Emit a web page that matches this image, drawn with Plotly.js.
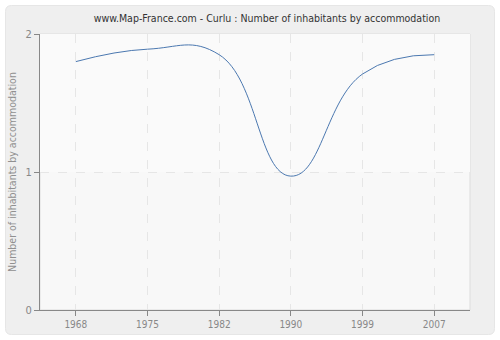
<!DOCTYPE html>
<html>
<head>
<meta charset="utf-8">
<script src="https://cdn.plot.ly/plotly-3.0.1.min.js"></script>
<style>
html,body{margin:0;padding:0;background:#ffffff;}
#chart{width:500px;height:340px;}
</style>
</head>
<body>
<div id="chart"></div>
<script>
var years = ["1968", "1975", "1982", "1990", "1999", "2007"];
var inhabitantsPerHousing = [1.80, 1.89, 1.85, 0.97, 1.71, 1.85];
var yTickValues = [0, 1, 2];
var yTickLabels = ["0", "1", "2"];

var FONT = "DejaVu Sans Condensed, DejaVu Sans, sans-serif";

var trace = {
  x: years,
  y: inhabitantsPerHousing,
  type: "scatter",
  mode: "lines",
  line: {color: "#4b78b0", width: 1, shape: "spline", smoothing: 1.3},
  hoverinfo: "x+y"
};

var px = function(v){ return (v - 40) / 430; };
var py = function(v){ return (310 - v) / 276; };

function roundRect(x0, y0, x1, y1, r) {
  var rx = r / 430, ry = r / 276;
  var a = px(x0), b = px(x1), t = py(y0), u = py(y1);
  return "M" + (a + rx) + "," + t +
    " L" + (b - rx) + "," + t +
    " Q" + b + "," + t + " " + b + "," + (t - ry) +
    " L" + b + "," + (u + ry) +
    " Q" + b + "," + u + " " + (b - rx) + "," + u +
    " L" + (a + rx) + "," + u +
    " Q" + a + "," + u + " " + a + "," + (u + ry) +
    " L" + a + "," + (t - ry) +
    " Q" + a + "," + t + " " + (a + rx) + "," + t + " Z";
}

var layout = {
  width: 500,
  height: 340,
  margin: {l: 40, r: 30, t: 34, b: 30, pad: 0},
  paper_bgcolor: "#ffffff",
  plot_bgcolor: "rgba(0,0,0,0)",
  showlegend: false,
  title: {
    text: "www.Map-France.com - Curlu : Number of inhabitants by accommodation",
    font: {family: FONT, size: 10.5, color: "#333333"},
    x: 267 / 500, xanchor: "center", xref: "container",
    y: 1 - 18 / 340, yanchor: "middle"
  },
  xaxis: {
    type: "category",
    range: [-0.5, 5.5],
    showline: true, linecolor: "#888888", linewidth: 1,
    ticks: "outside", ticklen: 5, tickcolor: "#888888",
    showgrid: true, gridcolor: "#e6e6e6", griddash: "dash", gridwidth: 1,
    tickfont: {family: FONT, size: 10, color: "#888888"},
    zeroline: false, fixedrange: true
  },
  yaxis: {
    range: [0, 2],
    tickvals: yTickValues, ticktext: yTickLabels,
    showline: true, linecolor: "#888888", linewidth: 1,
    ticks: "outside", ticklen: 5, tickcolor: "#888888",
    showgrid: true, gridcolor: "#e6e6e6", griddash: "dash", gridwidth: 1,
    tickfont: {family: FONT, size: 11, color: "#888888"},
    zeroline: false, fixedrange: true,
    title: {text: "Number of inhabitants by accommodation",
            font: {family: FONT, size: 10.5, color: "#909090"}, standoff: 6}
  },
  shapes: [
    {type: "path", xref: "paper", yref: "paper", layer: "below",
     path: roundRect(5.5, 5.5, 494.5, 334.5, 6),
     fillcolor: "#efefef", line: {color: "#e6e6e6", width: 1}},
    {type: "rect", xref: "paper", yref: "paper", layer: "below",
     x0: 0, x1: 1, y0: 0, y1: 1, fillcolor: "#f8f8f8",
     line: {color: "#dddddd", width: 1}},
    {type: "rect", xref: "paper", yref: "y", layer: "below",
     x0: 0, x1: 1, y0: 1, y1: 2, fillcolor: "#fafafa",
     line: {width: 0}}
  ]
};

Plotly.newPlot("chart", [trace], layout, {displayModeBar: false, staticPlot: true});
</script>
</body>
</html>
